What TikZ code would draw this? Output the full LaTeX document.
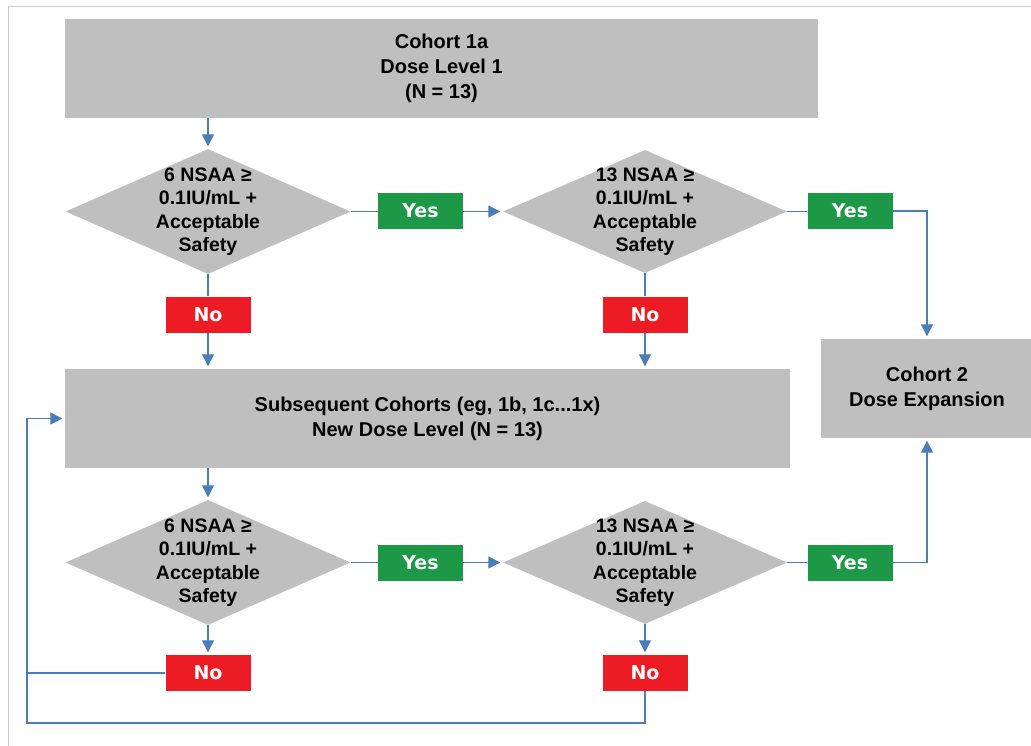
\documentclass[tikz,border=0pt]{standalone}
\usepackage{fontspec}
\setmainfont{Liberation Sans}
\newfontfamily\tagfont{DejaVu Sans}
\usepackage{tikz}
\usetikzlibrary{arrows.meta,shapes.geometric,calc}
\definecolor{GrisCaja}{RGB}{191,191,191}
\definecolor{VerdeSi}{RGB}{28,152,70}
\definecolor{RojoNo}{RGB}{237,28,36}
\definecolor{AzulFlecha}{RGB}{74,126,187}
\definecolor{GrisMarco}{RGB}{205,205,205}

\begin{document}
\begin{tikzpicture}[x=1pt,y=-1pt,>={Triangle[width=12pt,length=12pt]},
  box/.style={rectangle,fill=GrisCaja,inner sep=0pt,align=center,
    font=\bfseries\fontsize{20}{25}\selectfont},
  decision/.style={diamond,fill=GrisCaja,inner sep=0pt,
    minimum width=285pt,minimum height=125pt},
  dtext/.style={align=center,font=\bfseries\fontsize{19.5}{23.5}\selectfont},
  yesbox/.style={rectangle,fill=VerdeSi,text=white,minimum width=85pt,
    minimum height=36pt,inner sep=0pt,font=\tagfont\bfseries\fontsize{19}{20}\selectfont},
  nobox/.style={yesbox,fill=RojoNo},
  flow/.style={AzulFlecha,line width=1.3pt},
  flowarrow/.style={flow,->,shorten >=2.5pt}]
  \useasboundingbox (0,0) rectangle (1031,746);
  \draw[GrisMarco,line width=1pt] (8,760) -- (8,7) -- (1040,7);

  % first dose level
  \node[box,minimum width=753pt,minimum height=99pt] (c1a) at (441.5,68.5)
    {Cohort 1a\\Dose Level 1\\(N = 13)};
  \node[decision,label={[dtext]center:{6 NSAA ≥\\0.1IU/mL +\\Acceptable\\Safety}}]
    (d1) at (208,211.5) {};
  \node[yesbox] (y1) at (420.5,211) {Yes};
  \node[decision,minimum width=284pt,minimum height=123pt,
    label={[dtext]center:{13 NSAA ≥\\0.1IU/mL +\\Acceptable\\Safety}}]
    (d2) at (645,211.5) {};
  \node[yesbox] (y2) at (850,211) {Yes};
  \node[nobox] (n1) at (208,314.5) {No};
  \node[nobox] (n2) at (645,314.5) {No};

  % expansion
  \node[box,minimum width=212pt,minimum height=99pt] (c2) at (927,388.5)
    {Cohort 2\\Dose Expansion};

  % later dose levels
  \node[box,minimum width=725pt,minimum height=99pt] (sub) at (427.5,418.5)
    {Subsequent Cohorts (eg, 1b, 1c...1x)\\New Dose Level (N = 13)};
  \node[decision,label={[dtext]center:{6 NSAA ≥\\0.1IU/mL +\\Acceptable\\Safety}}]
    (d3) at (208,562.5) {};
  \node[yesbox] (y3) at (420.5,562.5) {Yes};
  \node[decision,minimum width=284pt,minimum height=123pt,
    label={[dtext]center:{13 NSAA ≥\\0.1IU/mL +\\Acceptable\\Safety}}]
    (d4) at (645,562.5) {};
  \node[yesbox] (y4) at (850,562.5) {Yes};
  \node[nobox] (n3) at (208,673) {No};
  \node[nobox] (n4) at (645,673) {No};
  \coordinate (lp) at (27,723);

  % connectors
  \draw[flowarrow] (d1.north |- c1a.south) -- (d1.north);
  \draw[flow] (d1.east) -- (d1.east -| y1.west);
  \draw[flowarrow] (d2.west -| y1.east) -- (d2.west);
  \draw[flow] (d2.east) -- (d2.east -| y2.west);
  \draw[flowarrow] (y2.east) -| (c2.north);
  \draw[flow] (d1.south) -- (n1.north);
  \draw[flowarrow] (n1.south) -- (n1.south |- sub.north);
  \draw[flow] (d2.south) -- (n2.north);
  \draw[flowarrow] (n2.south) -- (n2.south |- sub.north);
  \draw[flowarrow] (d3.north |- sub.south) -- (d3.north);
  \draw[flow] (d3.east) -- (y3.west);
  \draw[flowarrow] (y3.east) -- (d4.west);
  \draw[flow] (d4.east) -- (y4.west);
  \draw[flowarrow] (y4.east) -| (c2.south);
  \draw[flowarrow] (d3.south) -- (n3.north);
  \draw[flowarrow] (d4.south) -- (n4.north);
  \draw[flow] (n3.west) -- (n3.west -| lp);
  \draw[flowarrow] (n4.south) |- (lp) |- (sub.west);
\end{tikzpicture}
\end{document}
